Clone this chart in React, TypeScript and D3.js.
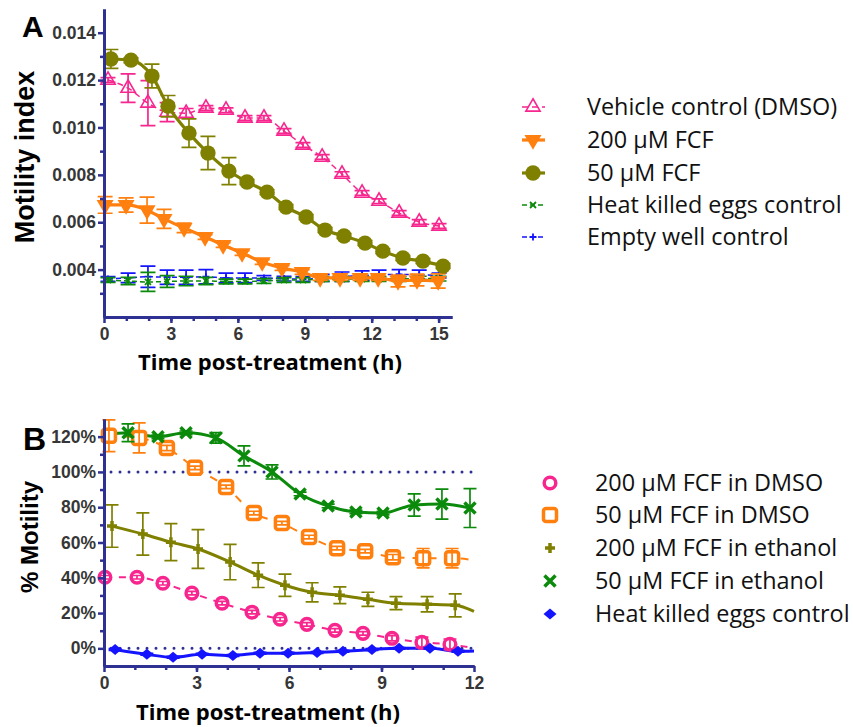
import React, { useRef, useEffect } from 'react';
import * as d3 from 'd3';

const NAVY = '#2e3192';
const PINK = '#f7268e';
const ORANGE = '#ff7f0f';
const OLIVE = '#808000';
const GREEN = '#0b8a0b';
const BLUE = '#1414ff';

// ---- Panel A: motility index over time ----
const timeVehicle = [0.18, 1.08, 1.97, 2.83, 3.68, 4.57, 5.47, 6.32, 7.17, 8.07, 8.92, 9.78, 10.67, 11.57, 12.33, 13.23, 14.13, 15.02];
const time200 = [0.05, 0.99, 1.93, 2.69, 3.59, 4.53, 5.34, 6.19, 7.09, 7.98, 8.88, 9.69, 10.58, 11.48, 12.29, 13.18, 14.03, 14.98];
const time50 = [0.31, 1.21, 2.15, 2.87, 3.81, 4.66, 5.6, 6.41, 7.31, 8.16, 9.06, 9.91, 10.76, 11.7, 12.5, 13.4, 14.3, 15.2];

const vehicle = [0.0120, 0.01166, 0.01103, 0.01065, 0.0106, 0.01082, 0.01073, 0.0104, 0.0104, 0.00985, 0.00926, 0.00875, 0.00803, 0.00723, 0.00689, 0.00639, 0.00601, 0.00584];
const vehicleErr = [0.0001, 0.0006, 0.00095, 0.0004, 0.0002, 0.0001, 0.0001, 0.0001, 0.0001, 0.0001, 0.0001, 0.0001, 0.0001, 0.0001, 0.0001, 0.0001, 0.0001, 0.0001];
const fcf200 = [0.00673, 0.00673, 0.00651, 0.00614, 0.00576, 0.00538, 0.00504, 0.0047, 0.00432, 0.00407, 0.0039, 0.00365, 0.00365, 0.00365, 0.00365, 0.00352, 0.00356, 0.00352];
const fcf200Err = [0.00035, 0.0003, 0.00055, 0.0004, 0.0002, 0.0001, 0.0001, 0.0001, 0.0001, 0.0001, 0.0001, 0.0001, 0.0001, 0.0001, 0.0001, 0.00025, 0.00025, 0.0003];
const fcf50 = [0.01289, 0.01284, 0.01217, 0.0109, 0.00976, 0.00892, 0.00816, 0.0077, 0.00727, 0.00664, 0.00622, 0.00567, 0.00542, 0.00512, 0.00478, 0.00449, 0.00436, 0.00415];
const fcf50Err = [0.0004, 0.0001, 0.0005, 0.00045, 0.0006, 0.0007, 0.00057, 0.0001, 0.0001, 0.0001, 0.0001, 0.0001, 0.0001, 0.0001, 0.0001, 0.0001, 0.0001, 0.0001];
const heatKilled = [0.00356, 0.00352, 0.00348, 0.0035, 0.00352, 0.00352, 0.0035, 0.0035, 0.00352, 0.00356, 0.00356, 0.0036, 0.0036, 0.0036, 0.0036, 0.0036, 0.00362, 0.00362];
const heatKilledErr = [0.0001, 0.00015, 0.0004, 0.00025, 0.0002, 0.00015, 0.0001, 0.0001, 0.0001, 0.0001, 0.0001, 0.0001, 0.0001, 0.0001, 0.0001, 0.0001, 0.0001, 0.0001];
const emptyWell = [0.0036, 0.00365, 0.0037, 0.00368, 0.00368, 0.0037, 0.00365, 0.00365, 0.00365, 0.00362, 0.0036, 0.00365, 0.0037, 0.00375, 0.00378, 0.0038, 0.00378, 0.00375];
const emptyWellErr = [0.0001, 0.0002, 0.00045, 0.0003, 0.0003, 0.0003, 0.0002, 0.0002, 0.0001, 0.0001, 0.0001, 0.00015, 0.0002, 0.0002, 0.0002, 0.0002, 0.0002, 0.0001];

const legendA = ['Vehicle control (DMSO)', '200 \u00b5M FCF', '50 \u00b5M FCF', 'Heat killed eggs control', 'Empty well control'];
const yTicksA = [0.004, 0.006, 0.008, 0.010, 0.012, 0.014];
const yMinorA = [0.003, 0.005, 0.007, 0.009, 0.011, 0.013];
const xTicksA = [0, 3, 6, 9, 12, 15];

// ---- Panel B: % motility over time ----
const tPink = [0.03, 1.07, 1.91, 2.85, 3.83, 4.8, 5.71, 6.58, 7.49, 8.4, 9.34, 10.31, 11.22];
const tOrange = [0.16, 1.14, 2.04, 2.95, 3.96, 4.86, 5.77, 6.65, 7.56, 8.47, 9.37, 10.35, 11.29];
const tOlive = [0.26, 1.26, 2.17, 3.05, 4.09, 5.0, 5.87, 6.75, 7.65, 8.56, 9.47, 10.48, 11.39];
const tGreen = [0.78, 1.75, 2.66, 3.63, 4.54, 5.45, 6.36, 7.27, 8.17, 9.05, 10.06, 10.96, 11.87];
const tBlue = [0.36, 1.39, 2.24, 3.18, 4.18, 5.06, 5.97, 6.91, 7.75, 8.69, 9.57, 10.57, 11.48];

const dmso200 = [40.3, 40.3, 36.9, 31.3, 25.6, 20.5, 16.5, 13.6, 10.2, 8.5, 5.7, 3.4, 2.3];
const dmso200Err = [1, 1, 1, 1, 1, 1, 1, 1, 1, 1, 1.5, 3, 3];
const dmso50 = [120.5, 119.3, 113.6, 102.3, 91.5, 76.7, 71, 63.1, 56.8, 55.1, 51.7, 51.1, 51.1];
const dmso50Err = [9, 8.5, 1.5, 1, 1, 1, 1, 1, 1, 1, 1.5, 5.5, 5.5];
const eth200 = [69.3, 64.8, 60.2, 56.3, 48.9, 41.5, 35.8, 31.8, 30.1, 27.8, 25.6, 25, 24.4];
const eth200Err = [12, 12, 10.5, 11, 10, 7, 6.3, 5.4, 4.8, 4, 3.7, 4.3, 6.5];
const eth50 = [122.2, 119.9, 122.2, 119.3, 109.1, 100, 87.5, 80.7, 77.3, 76.7, 81.3, 81.8, 79.5];
const eth50Err = [5, 1, 1, 3, 5.7, 4, 1, 1, 1, 1, 6.3, 8.5, 11];
const heatB = [-0.6, -3.4, -5.1, -3.4, -4.0, -2.8, -2.8, -2.3, -1.7, -0.6, 0, 0, -1.7];
const heatBErr = [0.5, 0.5, 0.5, 0.5, 0.5, 0.5, 0.5, 0.5, 0.5, 0.5, 0.5, 0.5, 0.5];
// where each connecting line meets the 0 h and 12 h edges
const headB = [null, null, null, 121, null];
const tailB = [0, 50, 21, null, -1.5];

const legendB = ['200 \u00b5M FCF in DMSO', '50 \u00b5M FCF in DMSO', '200 \u00b5M FCF in ethanol', '50 \u00b5M FCF in ethanol', 'Heat killed eggs control'];
const yTicksB = [0, 20, 40, 60, 80, 100, 120];
const yMinorB = [10, 30, 50, 70, 90, 110];
const xTicksB = [0, 3, 6, 9, 12];
const refLinesB = [100, 0];

const TICK_FONT = '"Liberation Sans", Arial, sans-serif';
const TEXT_FONT = '"Open Sans", sans-serif';

function drawMarker(g: any, kind: string, x: number, y: number, color: string) {
  const t = `translate(${x},${y})`;
  switch (kind) {
    case 'triUp':
      g.append('path').attr('d', d3.symbol(d3.symbolTriangle, 88)()).attr('transform', t)
        .attr('fill', 'none').attr('stroke', color).attr('stroke-width', 1.6);
      break;
    case 'triDown':
      g.append('path').attr('d', d3.symbol(d3.symbolTriangle, 125)()).attr('transform', t + ' rotate(180)')
        .attr('fill', color);
      break;
    case 'dot':
      g.append('path').attr('d', d3.symbol(d3.symbolCircle, 185)()).attr('transform', t).attr('fill', color);
      break;
    case 'xSmall':
      g.append('path').attr('d', 'M-3,-3L3,3M-3,3L3,-3').attr('transform', t)
        .attr('stroke', color).attr('stroke-width', 1.8).attr('fill', 'none');
      break;
    case 'plusSmall':
      g.append('path').attr('d', 'M-3.5,0L3.5,0M0,-3.5L0,3.5').attr('transform', t)
        .attr('stroke', color).attr('stroke-width', 1.8).attr('fill', 'none');
      break;
    case 'ring':
      g.append('circle').attr('cx', x).attr('cy', y).attr('r', 5.8)
        .attr('fill', '#fff').attr('stroke', color).attr('stroke-width', 3.5);
      break;
    case 'square':
      g.append('rect').attr('x', x - 6.5).attr('y', y - 6.5).attr('width', 13).attr('height', 13).attr('rx', 2.5)
        .attr('fill', '#fff').attr('stroke', color).attr('stroke-width', 3.5);
      break;
    case 'plusThick':
      g.append('path').attr('d', 'M-5,0L5,0M0,-5L0,5').attr('transform', t)
        .attr('stroke', color).attr('stroke-width', 3.5).attr('fill', 'none');
      break;
    case 'xThick':
      g.append('path').attr('d', 'M-5.5,-5.5L5.5,5.5M-5.5,5.5L5.5,-5.5').attr('transform', t)
        .attr('stroke', color).attr('stroke-width', 3.5).attr('fill', 'none');
      break;
    case 'diamond':
      g.append('path').attr('d', 'M0,-5.5L6.5,0L0,5.5L-6.5,0Z').attr('transform', t).attr('fill', color);
      break;
  }
}

function drawErr(g: any, x: number, y0: number, y1: number, color: string, cap: number) {
  if (Math.abs(y1 - y0) < 1) return;
  g.append('path')
    .attr('d', `M${x},${y0}L${x},${y1}M${x - cap / 2},${y0}L${x + cap / 2},${y0}M${x - cap / 2},${y1}L${x + cap / 2},${y1}`)
    .attr('stroke', color).attr('stroke-width', 1.7).attr('fill', 'none');
}

function styleAxis(ax: any) {
  ax.select('.domain').attr('stroke', NAVY).attr('stroke-width', 3);
  ax.selectAll('.tick line').attr('stroke', NAVY).attr('stroke-width', 2.5);
  ax.selectAll('.tick text').attr('fill', '#363636').attr('font-size', 17.5)
    .attr('font-weight', 'bold').attr('font-family', TICK_FONT);
}

const App = () => {
  const svgRef = useRef<SVGSVGElement>(null);

  useEffect(() => {
    const svg = d3.select(svgRef.current);
    svg.selectAll('*').remove();

    // ================= Panel A =================
    const xA = d3.scaleLinear().domain([0, 15.6]).range([104, 452]);
    const yA = d3.scaleLinear().domain([0.002, 0.015]).range([317, 9]);

    const gA = svg.append('g');

    const seriesA = [
      { name: legendA[0], t: timeVehicle, v: vehicle, e: vehicleErr, color: PINK, marker: 'triUp', dash: '6,4', width: 1.5 },
      { name: legendA[1], t: time200, v: fcf200, e: fcf200Err, color: ORANGE, marker: 'triDown', dash: null, width: 3.2 },
      { name: legendA[2], t: time50, v: fcf50, e: fcf50Err, color: OLIVE, marker: 'dot', dash: null, width: 3.2 },
      { name: legendA[3], t: timeVehicle, v: heatKilled, e: heatKilledErr, color: GREEN, marker: 'xSmall', dash: '5,3', width: 1.5 },
      { name: legendA[4], t: timeVehicle, v: emptyWell, e: emptyWellErr, color: BLUE, marker: 'plusSmall', dash: '5,3', width: 1.5 },
    ];

    const drawOrderA = [4, 3, 1, 0, 2];
    drawOrderA.forEach((si) => {
      const s = seriesA[si];
      const pts = s.t.map((t, i) => [xA(t), yA(s.v[i])] as [number, number]);
      const line = d3.line().curve(d3.curveMonotoneX);
      gA.append('path').attr('d', line(pts)).attr('fill', 'none').attr('stroke', s.color)
        .attr('stroke-width', s.width).attr('stroke-dasharray', s.dash);
      s.t.forEach((t, i) => drawErr(gA, xA(t), yA(s.v[i] - s.e[i]), yA(s.v[i] + s.e[i]), s.color, 15));
      pts.forEach(([x, y]) => drawMarker(gA, s.marker, x, y, s.color));
    });

    const axYA = gA.append('g').attr('transform', 'translate(104,0)')
      .call(d3.axisLeft(yA).tickValues(yTicksA).tickFormat(d3.format('.3f')).tickSize(6).tickSizeOuter(0).tickPadding(2));
    styleAxis(axYA);
    const axYAm = gA.append('g').attr('transform', 'translate(104,0)')
      .call(d3.axisLeft(yA).tickValues(yMinorA).tickFormat(() => '').tickSize(4).tickSizeOuter(0));
    styleAxis(axYAm);
    const axXA = gA.append('g').attr('transform', 'translate(0,317)')
      .call(d3.axisBottom(xA).tickValues(xTicksA).tickSize(6).tickSizeOuter(0).tickPadding(5));
    styleAxis(axXA);
    const axXAm = gA.append('g').attr('transform', 'translate(0,317)')
      .call(d3.axisBottom(xA).tickValues(d3.range(1, 16)).tickFormat(() => '').tickSize(4).tickSizeOuter(0));
    styleAxis(axXAm);

    gA.append('text').attr('x', 22).attr('y', 37).text('A')
      .attr('font-family', TICK_FONT).attr('font-weight', 'bold').attr('font-size', 30);
    gA.append('text').attr('transform', 'translate(34,157) rotate(-90)').attr('text-anchor', 'middle')
      .text('Motility index').attr('font-family', TICK_FONT).attr('font-weight', 'bold').attr('font-size', 27);
    gA.append('text').attr('x', 270).attr('y', 370).attr('text-anchor', 'middle')
      .text('Time post-treatment (h)').attr('font-family', TEXT_FONT).attr('font-weight', 'bold').attr('font-size', 22);

    const legRowsA = [107, 140, 173, 205, 237];
    seriesA.forEach((s, i) => {
      const y = legRowsA[i];
      gA.append('line').attr('x1', 522).attr('x2', 545).attr('y1', y).attr('y2', y)
        .attr('stroke', s.color).attr('stroke-width', s.width).attr('stroke-dasharray', s.dash);
      drawMarker(gA, s.marker, 533, y, s.color);
      gA.append('text').attr('x', 587).attr('y', y).attr('dy', '0.36em').text(s.name)
        .attr('font-family', TEXT_FONT).attr('font-size', 23.4).attr('fill', '#111');
    });

    // ================= Panel B =================
    const xB = d3.scaleLinear().domain([0, 12]).range([104, 474]);
    const yB = d3.scaleLinear().domain([-10, 130]).range([666, 419]);
    const gB = svg.append('g');

    refLinesB.forEach((v) => {
      gB.append('line').attr('x1', 111).attr('x2', 474).attr('y1', yB(v)).attr('y2', yB(v))
        .attr('stroke', NAVY).attr('stroke-width', 3).attr('stroke-linecap', 'round').attr('stroke-dasharray', '0,9');
    });

    const seriesB = [
      { name: legendB[0], t: tPink, v: dmso200, e: dmso200Err, color: PINK, marker: 'ring', dash: '7,7', width: 2 },
      { name: legendB[1], t: tOrange, v: dmso50, e: dmso50Err, color: ORANGE, marker: 'square', dash: '8,8', width: 2 },
      { name: legendB[2], t: tOlive, v: eth200, e: eth200Err, color: OLIVE, marker: 'plusThick', dash: null, width: 3 },
      { name: legendB[3], t: tGreen, v: eth50, e: eth50Err, color: GREEN, marker: 'xThick', dash: null, width: 3 },
      { name: legendB[4], t: tBlue, v: heatB, e: heatBErr, color: BLUE, marker: 'diamond', dash: null, width: 3 },
    ];

    seriesB.forEach((s, si) => {
      let pts = s.t.map((t, i) => [xB(t), yB(s.v[i])] as [number, number]);
      const head = headB[si];
      const tail = tailB[si];
      if (head !== null) pts = [[xB(0), yB(head)] as [number, number], ...pts];
      if (tail !== null) pts = [...pts, [xB(12), yB(tail)] as [number, number]];
      const line = d3.line().curve(d3.curveMonotoneX);
      gB.append('path').attr('d', line(pts)).attr('fill', 'none').attr('stroke', s.color)
        .attr('stroke-width', s.width).attr('stroke-dasharray', s.dash);
    });
    seriesB.forEach((s) => {
      s.t.forEach((t, i) => {
        const x = xB(t), y = yB(s.v[i]);
        drawMarker(gB, s.marker, x, y, s.color);
        drawErr(gB, x, yB(s.v[i] - s.e[i]), yB(s.v[i] + s.e[i]), s.color, 13);
      });
    });

    const pct = (d: any) => `${d}%`;
    const axYB = gB.append('g').attr('transform', 'translate(104,0)')
      .call(d3.axisLeft(yB).tickValues(yTicksB).tickFormat(pct).tickSize(6).tickSizeOuter(0).tickPadding(2));
    styleAxis(axYB);
    const axYBm = gB.append('g').attr('transform', 'translate(104,0)')
      .call(d3.axisLeft(yB).tickValues(yMinorB).tickFormat(() => '').tickSize(4).tickSizeOuter(0));
    styleAxis(axYBm);
    const axXB = gB.append('g').attr('transform', 'translate(0,666)')
      .call(d3.axisBottom(xB).tickValues(xTicksB).tickSize(6).tickSizeOuter(0).tickPadding(5));
    styleAxis(axXB);
    const axXBm = gB.append('g').attr('transform', 'translate(0,666)')
      .call(d3.axisBottom(xB).tickValues(d3.range(1, 12)).tickFormat(() => '').tickSize(4).tickSizeOuter(0));
    styleAxis(axXBm);

    gB.append('text').attr('x', 23).attr('y', 450).text('B')
      .attr('font-family', TICK_FONT).attr('font-weight', 'bold').attr('font-size', 32);
    gB.append('text').attr('transform', 'translate(38,537) rotate(-90)').attr('text-anchor', 'middle')
      .text('% Motility').attr('font-family', TICK_FONT).attr('font-weight', 'bold').attr('font-size', 24);
    gB.append('text').attr('x', 268).attr('y', 720).attr('text-anchor', 'middle')
      .text('Time post-treatment (h)').attr('font-family', TEXT_FONT).attr('font-weight', 'bold').attr('font-size', 22);

    const legRowsB = [483, 515, 548, 581, 614];
    seriesB.forEach((s, i) => {
      const y = legRowsB[i];
      drawMarker(gB, s.marker, 550, y, s.color);
      gB.append('text').attr('x', 595).attr('y', y).attr('dy', '0.36em').text(s.name)
        .attr('font-family', TEXT_FONT).attr('font-size', 23.4).attr('fill', '#111');
    });
  }, []);

  return (
    <svg ref={svgRef} width={853} height={727}
      style={{ position: 'absolute', left: 0, top: 0, background: '#fff' }} />
  );
};

export default App;
